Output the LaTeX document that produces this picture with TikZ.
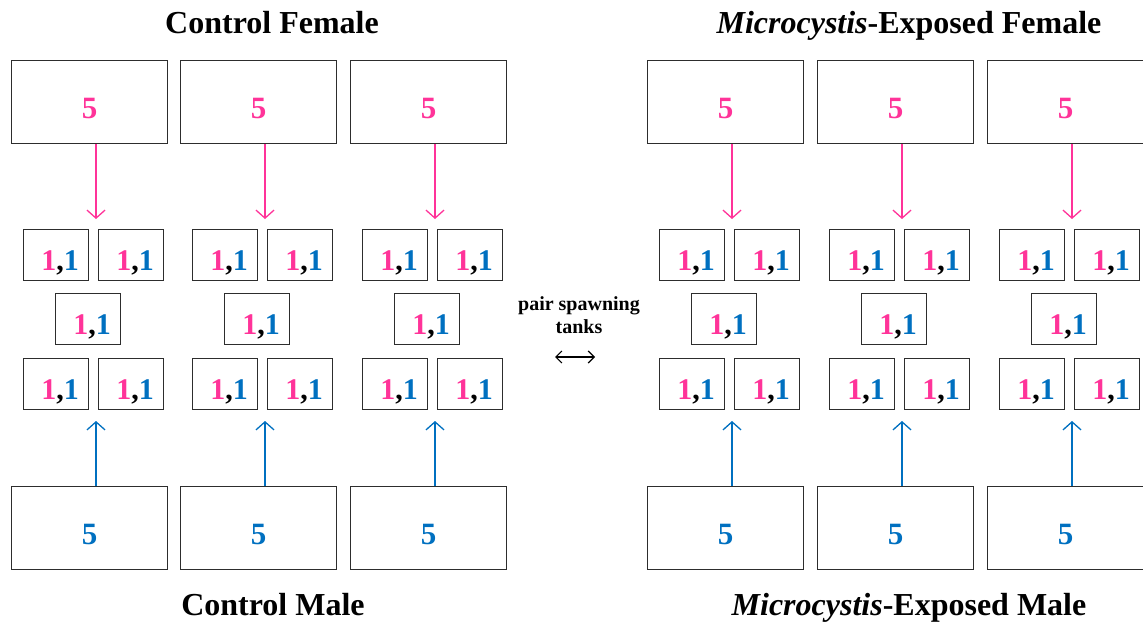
\documentclass[tikz,border=0pt]{standalone}
\usepackage{fontspec}
\setmainfont{Liberation Serif}
\usetikzlibrary{arrows.meta}
\definecolor{fpink}{RGB}{255,51,153}
\definecolor{mblue}{RGB}{0,112,192}
\definecolor{edge}{RGB}{45,45,45}
\newcommand{\pairtxt}{\kern8pt{\color{fpink}1},{\color{mblue}1}}
\begin{document}
\begin{tikzpicture}[x=1pt,y=-1pt,
  tank/.style={draw=edge, line width=1.4pt, minimum width=156pt, minimum height=83pt,
    inner sep=0pt, anchor=north west, text height=33pt, text depth=0pt,
    font=\fontsize{31}{31}\selectfont\bfseries},
  pairbox/.style={draw=edge, line width=1.4pt, minimum width=65pt, minimum height=51pt,
    inner sep=0pt, anchor=north west, text height=31pt, text depth=0pt,
    font=\fontsize{30}{30}\selectfont\bfseries},
  feed/.style={line width=1.3pt, -{Straight Barb[length=8pt,width=18pt,line width=1.3pt]}},
  heading/.style={anchor=base, font=\fontsize{32}{32}\selectfont\bfseries},
  note/.style={align=center, font=\fontsize{20}{23}\selectfont\bfseries}]
\useasboundingbox (0,0) rectangle (1143,624);

% group headings
\node[heading] (cf) at (272,33) {Control Female};
\node[heading] (ef) at (909,33) {\textit{Microcystis}-Exposed Female};
\node[heading] (cm) at (273,615) {Control Male};
\node[heading] (em) at (909,615) {\textit{Microcystis}-Exposed Male};

% six tank sets: female holding tank, five pair tanks, male holding tank
\foreach \g/\L in {a/11, b/180, c/350, d/647, e/817, f/987} {
  \node[tank, text=fpink] (\g-f) at (\L,60) {5};
  \node[tank, text=mblue] (\g-m) at (\L,486) {5};
  \node[pairbox] (\g-1) at (\L+12,229) {\pairtxt};
  \node[pairbox] (\g-2) at (\L+87,229) {\pairtxt};
  \node[pairbox] (\g-3) at (\L+44,293) {\pairtxt};
  \node[pairbox] (\g-4) at (\L+12,358) {\pairtxt};
  \node[pairbox] (\g-5) at (\L+87,358) {\pairtxt};
  \coordinate (\g-ft) at (\L+85,219);
  \coordinate (\g-mt) at (\L+85,421);
  \draw[feed, fpink] (\g-f.south -| \g-ft) -- (\g-ft);
  \draw[feed, mblue] (\g-m.north -| \g-mt) -- (\g-mt);
}

% central label with double arrow
\node[note] (ps) at (579,315) {pair spawning\\tanks};
\coordinate (pl) at (555,357);
\coordinate (pr) at (595,357);
\draw[line width=1.2pt, {Straight Barb[length=6pt,width=12pt]}-{Straight Barb[length=6pt,width=12pt]}] (pl) -- (pr);
\end{tikzpicture}
\end{document}
